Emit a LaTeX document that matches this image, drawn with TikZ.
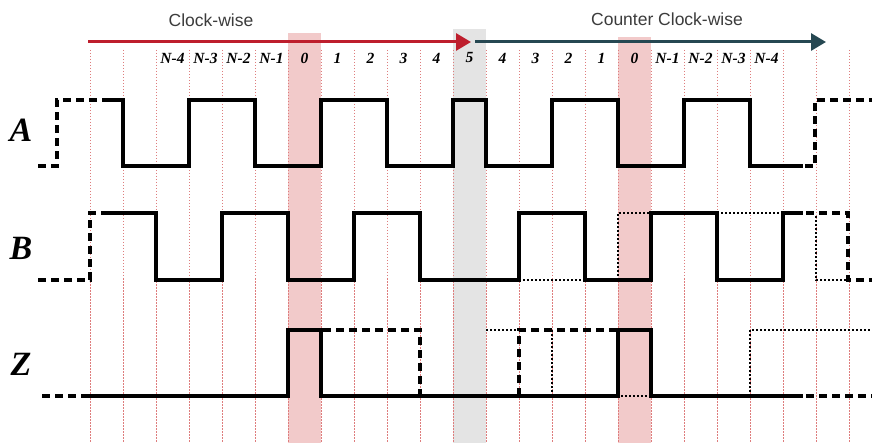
\documentclass[tikz,border=0pt]{standalone}
\usepackage{fontspec}
\setmainfont{Liberation Serif}
\newfontfamily\headfont{Liberation Sans}
\usetikzlibrary{arrows.meta}
\definecolor{bandpink}{RGB}{242,202,202}
\definecolor{bandgray}{RGB}{228,228,228}
\definecolor{gridred}{RGB}{222,125,125}
\definecolor{cwred}{RGB}{190,30,45}
\definecolor{ccwdark}{RGB}{38,72,82}
\definecolor{headgray}{RGB}{60,60,60}
\begin{document}
\begin{tikzpicture}[x=1pt,y=-1pt,
  gridline/.style={gridred, line width=0.6pt, dash pattern=on 1.5pt off 1.5pt},
  wave/.style={line width=3.2pt, line join=miter},
  wavedash/.style={line width=3.2pt, dash pattern=on 8pt off 5pt},
  wavedot/.style={line width=1.2pt, dash pattern=on 2pt off 2pt},
  dirarrow/.style={line width=3pt, -{Triangle[length=15pt,width=17pt]}},
  collabel/.style={font=\fontsize{15.5}{15.5}\selectfont\bfseries\itshape, inner sep=0pt},
  siglabel/.style={font=\fontsize{34}{34}\selectfont\bfseries\itshape, inner sep=0pt},
  head/.style={font=\headfont\fontsize{17.5}{17.5}\selectfont, text=headgray, inner sep=0pt}]
\useasboundingbox (0,0) rectangle (872,443);
\fill[white] (0,0) rectangle (872,443);
% bands
\fill[bandpink] (288,33) rectangle (321,443);
\fill[bandgray] (453,29) rectangle (486,443);
\fill[bandpink] (618,37) rectangle (651,443);
% grid
\foreach \k in {0,...,23}
  \draw[gridline] ({90+33*\k},50) -- ({90+33*\k},443);
% direction arrows
\coordinate (cwS) at (88,42);
\coordinate (cwE) at (471,42);
\coordinate (ccwS) at (475,42);
\coordinate (ccwE) at (826,42);
\draw[dirarrow, cwred] (cwS) -- (cwE);
\draw[dirarrow, ccwdark] (ccwS) -- (ccwE);
\node[head] (cw) at (211,20) {Clock-wise};
\node[head] (ccw) at (667,19) {Counter Clock-wise};
% column labels
\foreach \c/\t in {2/N-4,3/N-3,4/N-2,5/N-1,6/0,7/1,8/2,9/3,10/4,11/5,12/4,13/3,14/2,15/1,16/0,17/N-1,18/N-2,19/N-3,20/N-4}
  \node[collabel] (col\c) at ({90+33*\c+16.5},58) {\t};
% signal labels
\node[siglabel] (lA) at (21,130) {A};
\node[siglabel] (lB) at (21,248) {B};
\node[siglabel] (lZ) at (21,364) {Z};
% A
\draw[wavedash] (38,166) -- (57,166) -- (57,100) -- (105,100);
\draw[wave] (105,100) -- (123,100) -- (123,166) -- (189,166) -- (189,100) -- (255,100) -- (255,166) -- (321,166) -- (321,100) -- (387,100) -- (387,166) -- (453,166) -- (453,100) -- (486,100) -- (486,166) -- (552,166) -- (552,100) -- (618,100) -- (618,166) -- (684,166) -- (684,100) -- (750,100) -- (750,166) -- (803,166);
\draw[wavedash] (805,166) -- (815,166) -- (815,100) -- (872,100);
% B
\draw[wavedash] (38,280) -- (90,280) -- (90,213) -- (105,213);
\draw[wave] (105,213) -- (156,213) -- (156,280) -- (222,280) -- (222,213) -- (288,213) -- (288,280) -- (354,280) -- (354,213) -- (420,213) -- (420,280) -- (519,280) -- (519,213) -- (585,213) -- (585,280) -- (651,280) -- (651,213) -- (717,213) -- (717,280) -- (783,280) -- (783,213) -- (803,213);
\draw[wavedash] (806,213) -- (848,213) -- (848,280) -- (872,280);
\draw[wavedot] (519,280) -- (585,280);
\draw[wavedot] (618,280) -- (618,213) -- (651,213);
\draw[wavedot] (717,213) -- (783,213);
\draw[wavedot] (816,216) -- (816,280) -- (848,280);
% Z
\draw[wavedash] (42,396) -- (85,396);
\draw[wave] (85,396) -- (288,396) -- (288,330) -- (321,330) -- (321,396) -- (618,396) -- (618,330) -- (651,330) -- (651,396) -- (803,396);
\draw[wavedash] (806,396) -- (872,396);
\draw[wavedash] (323,330) -- (420,330) -- (420,396);
\draw[wavedot] (486,330) -- (519,330);
\draw[wavedash] (519,396) -- (519,330) -- (616,330);
\draw[wavedot] (552,330) -- (552,396);
\draw[wavedot] (621,396) -- (649,396);
\draw[wavedot, line width=1.6pt] (750,396) -- (750,330) -- (872,330);
\end{tikzpicture}
\end{document}
